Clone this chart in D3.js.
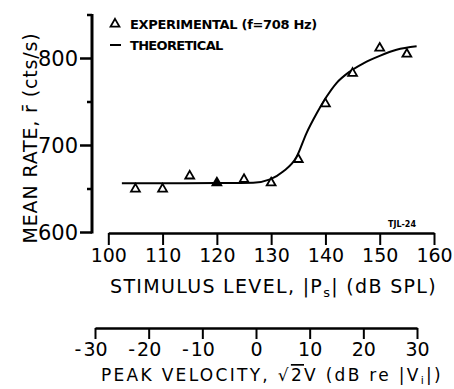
<!DOCTYPE html>
<html><head><meta charset="utf-8">
<script src="https://cdn.jsdelivr.net/npm/d3@7"></script>
<style>
body{margin:0;background:#fff;}
svg text{font-family:"DejaVu Sans",sans-serif;fill:#000;}
</style></head>
<body><svg id="c" width="454" height="389"></svg>
<script>
// Data
const expLevel = [105, 110, 115, 120, 125, 130, 135, 140, 145, 150, 155];
const expRate  = [650, 650, 665, 657, 661, 657, 684, 748, 783, 812, 805];
const expFilled = [false,false,false,true,false,false,false,false,false,false,false];
const theoLevel = [102.5, 110, 120, 126.7, 129.8, 132.2, 134.7, 136.5, 138.4, 140.2, 142.0, 144.5, 147, 150, 153.1, 156.8];
const theoRate  = [656.6, 656.6, 656.8, 657.2, 661, 670, 687, 714, 737, 756, 771.5, 785, 794.5, 803, 810, 814];
const levelTicks = [100, 110, 120, 130, 140, 150, 160];
const velTicks = [-30, -20, -10, 0, 10, 20, 30];
const rateMajor = [600, 700, 800];
const rateMinor = [650, 750, 850];

const svg = d3.select("#c");
const x = d3.scaleLinear().domain([100,160]).range([108.3,434]);
const xv = d3.scaleLinear().domain([-30,30]).range([95,417]);
const y = d3.scaleLinear().domain([600,850]).range([232.5,15]);
const axX = 92;

function fit(t, target){
  const n = t.node().getNumberOfChars();
  let ls = 0;
  for (let k=0;k<3;k++){
    const w = t.node().getBBox().width;
    ls += (target - w) / (n - 1);
    t.attr("letter-spacing", ls);
    t.selectAll("tspan").attr("letter-spacing", ls);
  }
}

// Y axis
const gy = svg.append("g").attr("transform",`translate(${axX},0)`);
gy.append("line").attr("x1",0).attr("x2",0).attr("y1",y(850)-1).attr("y2",y(600)+1)
  .attr("stroke","#000").attr("stroke-width",3);
gy.selectAll(".maj").data(rateMajor).join("line")
  .attr("x1",-12).attr("x2",0).attr("y1",d=>y(d)).attr("y2",d=>y(d))
  .attr("stroke","#000").attr("stroke-width",2.5);
gy.selectAll(".min").data(rateMinor).join("line")
  .attr("x1",-5).attr("x2",0).attr("y1",d=>y(d)).attr("y2",d=>y(d))
  .attr("stroke","#000").attr("stroke-width",2.5);
gy.selectAll("text").data(rateMajor).join("text")
  .attr("x",-14).attr("y",d=>y(d)).attr("dy","0.36em")
  .attr("text-anchor","end").attr("font-size",21).text(d=>d);

// Y title
const yt = svg.append("text").attr("transform","translate(37,138) rotate(-90)")
  .attr("text-anchor","middle").attr("font-size",19)
  .text("MEAN RATE, r\u0304 (cts/s)");
fit(yt, 211);

// X axis (stimulus level)
const gx = svg.append("g").attr("transform","translate(0,233)")
  .call(d3.axisBottom(x).tickValues(levelTicks).tickSize(12).tickSizeOuter(0).tickPadding(4));
gx.select(".domain").attr("stroke-width",2.5);
gx.selectAll(".tick line").attr("stroke-width",2);
gx.selectAll(".tick text").attr("font-size",19).attr("font-family","DejaVu Sans");
const xt = svg.append("text").attr("x",110).attr("y",293)
  .attr("font-size",19)
  .html('STIMULUS LEVEL, |P<tspan font-size="13" dy="4">s</tspan><tspan dy="-4">| (dB SPL)</tspan>');
fit(xt, 327);

// Velocity axis
const gv = svg.append("g").attr("transform","translate(0,328)")
  .call(d3.axisBottom(xv).tickValues(velTicks).tickSize(11).tickSizeOuter(0).tickPadding(4)
    .tickFormat(d=>Math.abs(d)));
gv.select(".domain").attr("stroke-width",2.5);
gv.selectAll(".tick line").attr("stroke-width",2);
gv.selectAll(".tick text").attr("font-size",19).attr("font-family","DejaVu Sans");
gv.selectAll(".tick").each(function(d){
  if(d<0){
    const t=d3.select(this).select("text");
    const w=t.node().getComputedTextLength();
    d3.select(this).append("text").attr("x",-w/2-2).attr("y",t.attr("y")).attr("dy",t.attr("dy"))
      .attr("text-anchor","end").attr("font-size",19).attr("fill","#000").text("-");
  }
});
const vt = svg.append("text").attr("x",101).attr("y",381)
  .attr("font-size",17)
  .html('PEAK VELOCITY, \u221A<tspan text-decoration="overline">2</tspan>V (dB re |V<tspan font-size="11" dy="3">i</tspan><tspan dy="-3">|)</tspan>');
fit(vt, 342);

// TJL-24
svg.append("text").attr("x",388).attr("y",227).attr("font-size",8).attr("font-weight","bold")
  .text("TJL-24");

// Theoretical line
svg.append("path").datum(theoLevel.map((d,i)=>[d,theoRate[i]]))
  .attr("d",d3.line().x(d=>x(d[0])).y(d=>y(d[1])).curve(d3.curveMonotoneX))
  .attr("fill","none").attr("stroke","#000").attr("stroke-width",2);

// Experimental triangles
const tri = d3.symbol().type(d3.symbolTriangle).size(34);
svg.selectAll(".pt").data(expLevel.map((d,i)=>({l:d,r:expRate[i],f:expFilled[i]}))).join("path")
  .attr("transform",d=>`translate(${x(d.l)},${y(d.r)})`).attr("d",tri)
  .attr("fill",d=>d.f?"#000":"#fff").attr("stroke","#000").attr("stroke-width",1.8);

// Legend
svg.append("path").attr("transform","translate(115,24)").attr("d",tri)
  .attr("fill","#fff").attr("stroke","#000").attr("stroke-width",1.8);
const l1 = svg.append("text").attr("x",130).attr("y",29).attr("font-size",13).attr("font-weight","bold")
  .text("EXPERIMENTAL (f=708 Hz)");
fit(l1, 187);
svg.append("line").attr("x1",110).attr("x2",121).attr("y1",45).attr("y2",45)
  .attr("stroke","#000").attr("stroke-width",2);
const l2 = svg.append("text").attr("x",130).attr("y",50).attr("font-size",13).attr("font-weight","bold")
  .text("THEORETICAL");
fit(l2, 93);
</script></body></html>
